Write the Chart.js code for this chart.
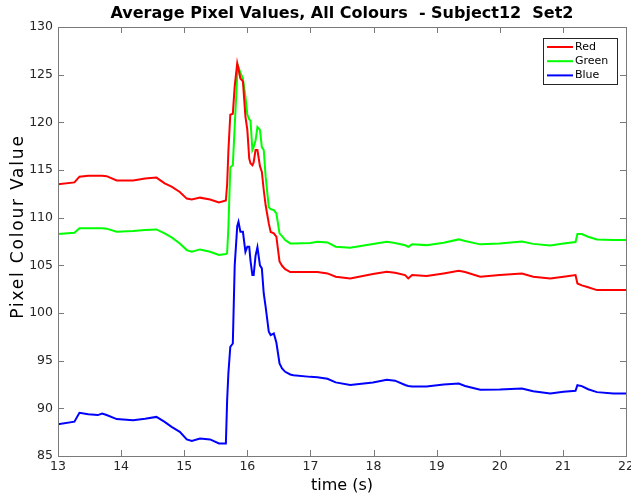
<!DOCTYPE html>
<html>
<head>
<meta charset="utf-8">
<title>Average Pixel Values</title>
<script src="https://cdn.jsdelivr.net/npm/chart.js@4.4.1/dist/chart.umd.min.js"></script>
<style>
  html, body { margin: 0; padding: 0; background: #fff; }
</style>
</head>
<body>
<canvas id="chartPixels" width="631" height="496"></canvas>
<script>
// values
var timeSec = [13.0, 13.26, 13.34, 13.48, 13.63, 13.70, 13.77, 13.93, 14.19, 14.38,
    14.56, 14.69, 14.80, 14.93, 15.04, 15.12, 15.25, 15.41, 15.55, 15.66,
    15.68, 15.70, 15.73, 15.77, 15.80, 15.84, 15.86, 15.89, 15.93, 15.97,
    16.0, 16.03, 16.05, 16.08, 16.10, 16.13, 16.16, 16.20, 16.23, 16.26,
    16.29, 16.34, 16.37, 16.42, 16.46, 16.51, 16.55, 16.60, 16.68, 16.73,
    17.0, 17.11, 17.27, 17.40, 17.63, 17.99, 18.21, 18.34, 18.50, 18.55,
    18.61, 18.84, 19.11, 19.35, 19.45, 19.69, 20.0, 20.35, 20.53, 20.80,
    21.01, 21.20, 21.23, 21.30, 21.40, 21.54, 21.80, 22.0];

var redValues = [113.5, 113.7, 114.3, 114.4, 114.4, 114.4, 114.35, 113.9, 113.9, 114.1,
    114.2, 113.6, 113.25, 112.7, 112.0, 111.9, 112.1, 111.9, 111.6, 111.8,
    113.5, 117.0, 120.8, 120.9, 123.8, 126.2, 125.6, 124.6, 124.3, 120.6,
    119.2, 116.2, 115.7, 115.5, 115.8, 117.1, 117.1, 115.4, 114.8, 112.9,
    111.3, 109.4, 108.5, 108.35, 108.0, 105.4, 104.95, 104.6, 104.3, 104.3,
    104.3, 104.3, 104.15, 103.8, 103.63, 104.08, 104.32, 104.22, 103.98, 103.63,
    103.98, 103.87, 104.15, 104.43, 104.3, 103.8, 103.98, 104.15, 103.8, 103.63,
    103.8, 103.98, 103.1, 102.9, 102.7, 102.4, 102.4, 102.4];

var greenValues = [108.28, 108.42, 108.88, 108.9, 108.9, 108.88, 108.85, 108.52, 108.6, 108.7,
    108.77, 108.35, 107.93, 107.3, 106.6, 106.42, 106.67, 106.42, 106.08, 106.18,
    106.3, 109.0, 115.3, 115.5, 119.6, 125.0, 125.8, 125.2, 124.6, 122.7,
    120.8, 120.3, 120.2, 117.1, 117.4, 118.1, 119.5, 119.2, 117.4, 117.1,
    114.3, 111.1, 110.9, 110.8, 110.45, 108.35, 108.07, 107.65, 107.3, 107.3,
    107.35, 107.47, 107.4, 106.95, 106.84, 107.23, 107.47, 107.35, 107.1, 106.95,
    107.2, 107.12, 107.37, 107.72, 107.55, 107.2, 107.3, 107.51, 107.25, 107.09,
    107.3, 107.44, 108.28, 108.28, 108.0, 107.72, 107.65, 107.65];

var blueValues = [88.34, 88.6, 89.53, 89.39, 89.29, 89.46, 89.3, 88.87, 88.76, 88.9,
    89.1, 88.58, 88.06, 87.53, 86.74, 86.59, 86.84, 86.74, 86.32, 86.32,
    90.86, 93.7, 96.45, 96.8, 105.0, 109.1, 109.57, 108.52, 108.52, 106.42,
    106.95, 106.95, 105.5, 103.98, 103.98, 106.0, 106.9, 105.0, 104.68, 102.05,
    100.65, 98.03, 97.68, 97.86, 96.9, 94.71, 94.19, 93.83, 93.55, 93.48,
    93.3, 93.27, 93.1, 92.72, 92.45, 92.72, 93.0, 92.9, 92.45, 92.35,
    92.3, 92.3, 92.5, 92.61, 92.35, 91.95, 91.98, 92.09, 91.8, 91.56,
    91.75, 91.84, 92.43, 92.33, 92.0, 91.7, 91.56, 91.56];

var seriesNames = ['Red', 'Green', 'Blue'];
var xTickValues = [13, 14, 15, 16, 17, 18, 19, 20, 21, 22];
var yTickValues = [85, 90, 95, 100, 105, 110, 115, 120, 125, 130];

var axisColor = '#262626';
var boxColor = '#7a7a7a';

function toPoints(values) {
    return values.map(function(v, i) { return {x: timeSec[i], y: v}; });
}

// MATLAB style box with inward ticks
var matlabAxes = {
    id: 'matlabAxes',
    afterDatasetsDraw: function(chart) {
        var ctx = chart.ctx, a = chart.chartArea;
        var xs = chart.scales.x, ys = chart.scales.y;
        ctx.save();
        ctx.strokeStyle = boxColor;
        ctx.lineWidth = 1;
        ctx.beginPath();
        xs.ticks.forEach(function(t) {
            var px = Math.round(xs.getPixelForValue(t.value)) + 0.5;
            ctx.moveTo(px, a.bottom); ctx.lineTo(px, a.bottom - 6);
            ctx.moveTo(px, a.top); ctx.lineTo(px, a.top + 6);
        });
        ys.ticks.forEach(function(t) {
            var py = Math.round(ys.getPixelForValue(t.value)) + 0.5;
            ctx.moveTo(a.left, py); ctx.lineTo(a.left + 6, py);
            ctx.moveTo(a.right, py); ctx.lineTo(a.right - 6, py);
        });
        ctx.stroke();
        ctx.strokeRect(Math.round(a.left) + 0.5, Math.round(a.top) + 0.5,
            Math.round(a.right - a.left), Math.round(a.bottom - a.top));

        // legend box, top right inside the axes
        var bx = 543, by = 38, bw = 74, bh = 46;
        ctx.fillStyle = '#fff';
        ctx.fillRect(bx, by, bw, bh);
        ctx.strokeStyle = '#262626';
        ctx.strokeRect(bx + 0.5, by + 0.5, bw, bh);
        ctx.font = '11px "DejaVu Sans"';
        ctx.textBaseline = 'middle';
        ctx.textAlign = 'left';
        chart.data.datasets.forEach(function(ds, i) {
            var ly = by + 9 + i * 14.2;
            ctx.strokeStyle = ds.borderColor;
            ctx.lineWidth = 2;
            ctx.beginPath();
            ctx.moveTo(bx + 4, ly); ctx.lineTo(bx + 30, ly);
            ctx.stroke();
            ctx.fillStyle = '#000';
            ctx.fillText(ds.label, bx + 32, ly);
        });
        ctx.restore();
    }
};

var ctx = document.getElementById('chartPixels');
var chartPixels = new Chart(ctx, {
    type: 'line',
    data: {
        datasets: [{
            label: seriesNames[0],
            data: toPoints(redValues),
            borderColor: 'rgb(255, 0, 0)',
        }, {
            label: seriesNames[1],
            data: toPoints(greenValues),
            borderColor: 'rgb(0, 255, 0)',
        }, {
            label: seriesNames[2],
            data: toPoints(blueValues),
            borderColor: 'rgb(0, 0, 255)',
        }]
    },
    options: {
        responsive: false,
        animation: false,
        devicePixelRatio: 1,
        elements: {
            line: { borderWidth: 2, tension: 0, fill: false },
            point: { radius: 0 }
        },
        layout: { padding: { left: 0, right: 5, top: 0, bottom: 0 } },
        plugins: {
            legend: { display: false },
            tooltip: { enabled: false },
            title: {
                display: true,
                fullSize: false,
                text: 'Average Pixel Values, All Colours  - Subject12  Set2',
                color: '#000',
                font: { family: 'DejaVu Sans', size: 16, weight: 'bold', lineHeight: 1.2 },
                padding: { top: 4, bottom: 3.8 }
            }
        },
        scales: {
            x: {
                type: 'linear',
                min: 13,
                max: 22,
                afterBuildTicks: function(scale) {
                    scale.ticks = xTickValues.map(function(v) { return {value: v}; });
                },
                afterFit: function(scale) {
                    scale.height = 40;
                    scale.paddingLeft = 0;
                    scale.paddingRight = 0;
                },
                grid: { display: false, drawTicks: false },
                border: { display: false },
                ticks: {
                    padding: 3,
                    color: axisColor,
                    autoSkip: false,
                    maxRotation: 0,
                    font: { family: 'DejaVu Sans', size: 12.5 }
                },
                title: {
                    display: true,
                    text: 'time (s)',
                    color: '#000',
                    font: { family: 'DejaVu Sans', size: 16, lineHeight: 1.2 },
                    padding: { top: 0, bottom: 0.5 }
                }
            },
            y: {
                type: 'linear',
                min: 85,
                max: 130,
                afterBuildTicks: function(scale) {
                    scale.ticks = yTickValues.map(function(v) { return {value: v}; });
                },
                afterFit: function(scale) {
                    scale.width = 58;
                    scale.paddingTop = 0;
                    scale.paddingBottom = 0;
                    // the reference ylabel is spaced out and sits a bit high
                    if (!scale._titleWrapped) {
                        var drawTitle = scale.drawTitle;
                        scale.drawTitle = function() {
                            this.ctx.save();
                            this.ctx.letterSpacing = '1.8px';
                            this.ctx.translate(0, -15);
                            drawTitle.call(this);
                            this.ctx.restore();
                        };
                        scale._titleWrapped = true;
                    }
                },
                grid: { display: false, drawTicks: false },
                border: { display: false },
                ticks: {
                    padding: 5,
                    color: axisColor,
                    font: { family: 'DejaVu Sans', size: 12.5 }
                },
                title: {
                    display: true,
                    text: 'Pixel Colour Value',
                    color: '#000',
                    font: { family: 'DejaVu Sans', size: 17, lineHeight: 1.2 },
                    padding: { top: 8, bottom: 0 }
                }
            }
        }
    },
    plugins: [matlabAxes]
});
</script>
</body>
</html>
